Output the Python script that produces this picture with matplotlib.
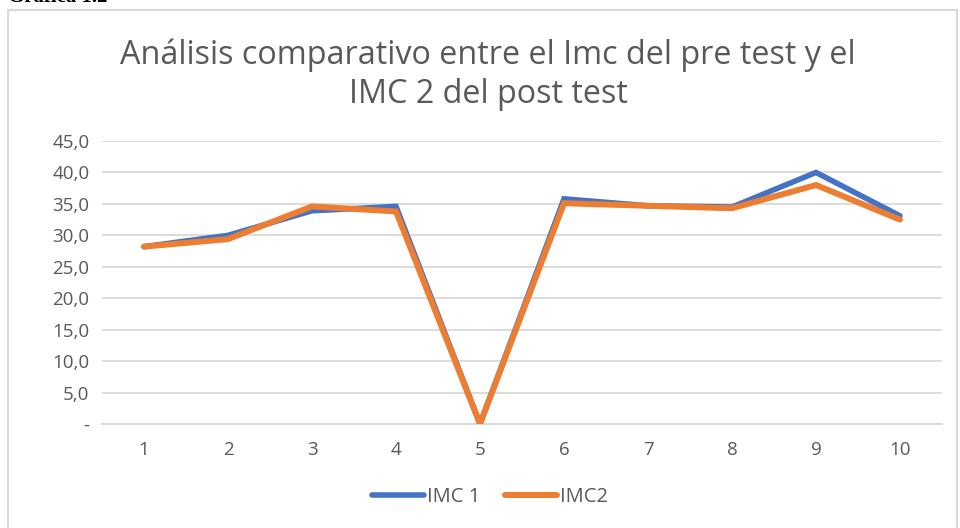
import matplotlib.pyplot as plt
from matplotlib.patches import Rectangle
from matplotlib.ticker import FuncFormatter

categories = ["1", "2", "3", "4", "5", "6", "7", "8", "9", "10"]
imc1 = [28.2, 30.0, 33.9, 34.6, 0.0, 35.8, 34.7, 34.5, 40.0, 33.1]
imc2 = [28.2, 29.4, 34.6, 33.8, 0.0, 35.1, 34.7, 34.3, 38.0, 32.5]
yticks = [0, 5, 10, 15, 20, 25, 30, 35, 40, 45]

plt.rcParams['font.family'] = ['Open Sans', 'DejaVu Sans']

fig = plt.figure(figsize=(9.6, 5.28), dpi=100)

# outer chart border (partly cut by the image edge)
fig.patches.append(Rectangle((8 / 960, -0.05), 949 / 960, 1 - 10 / 528 + 0.05,
                             transform=fig.transFigure, fill=False,
                             edgecolor="#d9d9d9", linewidth=1.5))

# caption cut off at the top of the picture
fig.text(8 / 960, 1 + 3 / 528, "Gráfica 1.2", fontsize=15, fontweight="bold",
         family="Liberation Serif", ha="left", va="center", color="black")

ax = fig.add_axes([102 / 960, 1 - 424 / 528, 840 / 960, 283 / 528])
x = list(range(1, len(categories) + 1))
ax.plot(x, imc1, color="#4472C4", linewidth=4, solid_capstyle="round",
        solid_joinstyle="miter", label="IMC 1", zorder=3)
ax.plot(x, imc2, color="#ED7D31", linewidth=4.3, solid_capstyle="round",
        solid_joinstyle="miter", label="IMC2", zorder=4)

ax.set_xlim(0.5, len(categories) + 0.5)
ax.set_ylim(0, 45)
ax.set_xticks(x)
ax.set_xticklabels(categories)
ax.set_yticks(yticks)
ax.yaxis.set_major_formatter(FuncFormatter(
    lambda v, p: "-" if v == 0 else f"{v:.1f}".replace(".", ",")))
ax.grid(axis="y", color="#d9d9d9", linewidth=1.3)
ax.set_axisbelow(True)
for s in ["top", "right", "left"]:
    ax.spines[s].set_visible(False)
ax.spines["bottom"].set_color("#d9d9d9")
ax.spines["bottom"].set_linewidth(1.3)
ax.tick_params(axis="both", length=0, labelsize=13.5, colors="#595959")
ax.tick_params(axis="x", pad=12)
ax.tick_params(axis="y", pad=9)

fig.text(488 / 960, 1 - 75 / 528,
         "Análisis comparativo entre el Imc del pre test y el\nIMC 2 del post test",
         ha="center", va="center", fontsize=23.3, color="#595959", linespacing=1.25)

fig.legend(loc="center", bbox_to_anchor=(490 / 960, 1 - 497 / 528), ncol=2,
           frameon=False, fontsize=14.5, labelcolor="#595959",
           handlelength=2.6, handletextpad=0.15, columnspacing=1.2)

fig.savefig("out.png", dpi=100)
